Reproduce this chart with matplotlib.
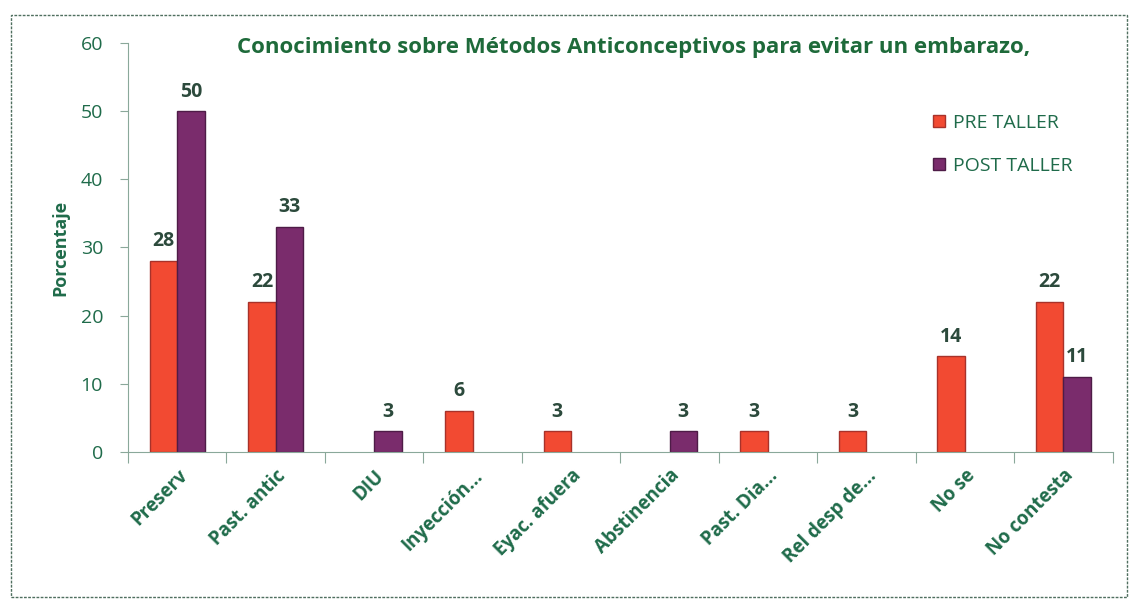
import matplotlib.pyplot as plt
import numpy as np

categorias = ["Preserv", "Past. antic", "DIU", "Inyección...", "Eyac. afuera",
              "Abstinencia", "Past. Dia...", "Rel desp de...", "No se", "No contesta"]
pre_taller = [28, 22, 0, 6, 3, 0, 3, 3, 14, 22]
post_taller = [50, 33, 3, 0, 0, 3, 0, 0, 0, 11]

verde = "#1f6b4a"
verde_oscuro = "#2c4a3c"
rojo = "#f24a32"
morado = "#7a2c6c"

plt.rcParams["font.family"] = ["Open Sans", "DejaVu Sans"]

fig = plt.figure(figsize=(11.33, 6), dpi=100)
ax = fig.add_axes([0.113, 0.247, 0.869, 0.681])

x = np.arange(len(categorias))
ancho = 0.28
# sin borde en las barras de valor cero
borde_pre = [1 if v > 0 else 0 for v in pre_taller]
borde_post = [1 if v > 0 else 0 for v in post_taller]
b1 = ax.bar(x - ancho / 2, pre_taller, ancho, color=rojo, edgecolor="#a8322a",
            linewidth=borde_pre, label="PRE TALLER")
b2 = ax.bar(x + ancho / 2, post_taller, ancho, color=morado, edgecolor="#4e1c47",
            linewidth=borde_post, label="POST TALLER")

# etiquetas de valor, sin mostrar los ceros
for barras in (b1, b2):
    for b in barras:
        h = b.get_height()
        if h > 0:
            ax.annotate(f"{h:g}", (b.get_x() + b.get_width() / 2, h),
                        xytext=(0, 7), textcoords="offset points",
                        ha="center", va="bottom", fontsize=14,
                        fontweight="bold", color=verde_oscuro)

ax.set_xlim(-0.5, len(categorias) - 0.5)
ax.set_ylim(0, 60)
ax.set_yticks(np.arange(0, 61, 10))
ax.set_xticks(np.arange(-0.5, len(categorias), 1), minor=False)
ax.set_xticklabels([])
ax.set_xticks(x, minor=True)
ax.set_xticklabels(categorias, minor=True, rotation=45, ha="right",
                   rotation_mode="anchor", fontsize=13.5, fontweight="bold",
                   color=verde)
ax.tick_params(axis="x", which="minor", length=0, pad=10)
ax.tick_params(axis="x", which="major", length=8, color="#8aa89a", direction="out")
ax.tick_params(axis="y", length=6, color="#8aa89a", labelsize=14,
               labelcolor=verde, pad=12)

for lado in ("top", "right"):
    ax.spines[lado].set_visible(False)
ax.spines["left"].set_color("#8aa89a")
ax.spines["bottom"].set_color("#8aa89a")

ax.set_ylabel("Porcentaje", fontsize=13, fontweight="bold", color=verde, labelpad=8)
ax.set_title("Conocimiento sobre Métodos Anticonceptivos para evitar un embarazo,",
             fontsize=16, fontweight="bold", color="#1e6a3a", x=0.514, y=0.955)

ax.legend(loc="upper left", bbox_to_anchor=(0.8, 0.87), frameon=False,
          fontsize=14, labelcolor=verde, handlelength=0.6, handleheight=0.6,
          labelspacing=1.3, handletextpad=0.4)

# marco punteado alrededor del gráfico
fig.patches.append(plt.Rectangle((0.01, 0.005), 0.985, 0.97, transform=fig.transFigure,
                                 fill=False, edgecolor="#4f6f5f", linewidth=1,
                                 linestyle=(0, (2, 1))))

fig.savefig("out.png", dpi=100)
